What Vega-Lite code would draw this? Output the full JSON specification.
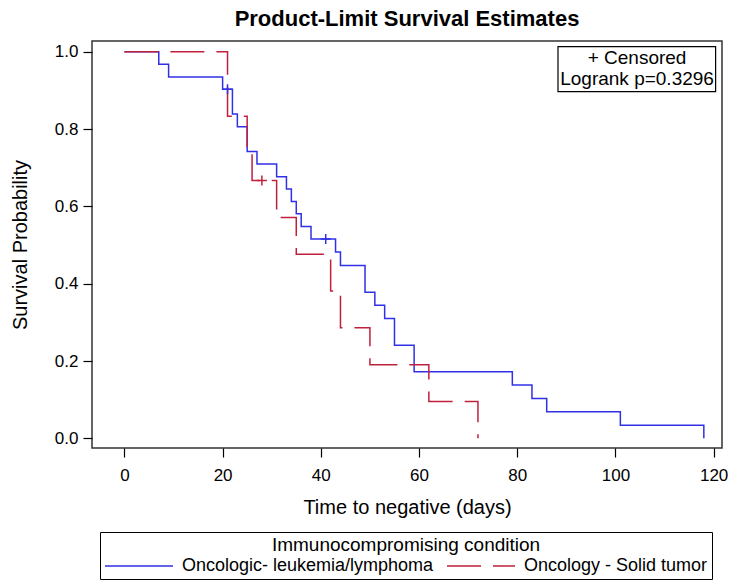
{
  "$schema": "https://vega.github.io/schema/vega-lite/v6.json",
  "width": 630,
  "height": 407,
  "autosize": {"type": "none"},
  "padding": {"left": 92, "top": 41, "right": 7, "bottom": 133},
  "background": "white",
  "title": {"text": "Product-Limit Survival Estimates", "fontSize": 22, "font": "Liberation Sans", "fontWeight": "bold", "anchor": "middle", "offset": 10, "color": "black"},
  "config": {
    "view": {"stroke": "#333333", "strokeWidth": 1.5},
    "font": "Liberation Sans",
    "axis": {"domain": false, "grid": false, "tickColor": "black", "tickSize": 9, "tickWidth": 1.2, "labelFontSize": 17, "titleFontSize": 20, "labelColor": "black", "titleColor": "black", "titleFontWeight": "normal", "labelFont": "Liberation Sans", "titleFont": "Liberation Sans"},
    "legend": {"labelFont": "Liberation Sans", "titleFont": "Liberation Sans"}
  },
  "datasets": {
    "curves": [
      {"group": "Oncologic- leukemia/lymphoma", "time": 0, "survival": 1.0},
      {"group": "Oncologic- leukemia/lymphoma", "time": 7, "survival": 0.968},
      {"group": "Oncologic- leukemia/lymphoma", "time": 9, "survival": 0.935},
      {"group": "Oncologic- leukemia/lymphoma", "time": 20, "survival": 0.903},
      {"group": "Oncologic- leukemia/lymphoma", "time": 22, "survival": 0.839},
      {"group": "Oncologic- leukemia/lymphoma", "time": 23, "survival": 0.806},
      {"group": "Oncologic- leukemia/lymphoma", "time": 25, "survival": 0.742},
      {"group": "Oncologic- leukemia/lymphoma", "time": 27, "survival": 0.710},
      {"group": "Oncologic- leukemia/lymphoma", "time": 31, "survival": 0.677},
      {"group": "Oncologic- leukemia/lymphoma", "time": 33, "survival": 0.645},
      {"group": "Oncologic- leukemia/lymphoma", "time": 34, "survival": 0.613},
      {"group": "Oncologic- leukemia/lymphoma", "time": 35, "survival": 0.581},
      {"group": "Oncologic- leukemia/lymphoma", "time": 36, "survival": 0.548},
      {"group": "Oncologic- leukemia/lymphoma", "time": 38, "survival": 0.516},
      {"group": "Oncologic- leukemia/lymphoma", "time": 43, "survival": 0.482},
      {"group": "Oncologic- leukemia/lymphoma", "time": 44, "survival": 0.447},
      {"group": "Oncologic- leukemia/lymphoma", "time": 49, "survival": 0.378},
      {"group": "Oncologic- leukemia/lymphoma", "time": 51, "survival": 0.344},
      {"group": "Oncologic- leukemia/lymphoma", "time": 53, "survival": 0.310},
      {"group": "Oncologic- leukemia/lymphoma", "time": 55, "survival": 0.241},
      {"group": "Oncologic- leukemia/lymphoma", "time": 59, "survival": 0.172},
      {"group": "Oncologic- leukemia/lymphoma", "time": 79, "survival": 0.138},
      {"group": "Oncologic- leukemia/lymphoma", "time": 83, "survival": 0.103},
      {"group": "Oncologic- leukemia/lymphoma", "time": 86, "survival": 0.069},
      {"group": "Oncologic- leukemia/lymphoma", "time": 101, "survival": 0.034},
      {"group": "Oncologic- leukemia/lymphoma", "time": 118, "survival": 0.0},
      {"group": "Oncology - Solid tumor", "time": 0, "survival": 1.0},
      {"group": "Oncology - Solid tumor", "time": 21, "survival": 0.833},
      {"group": "Oncology - Solid tumor", "time": 25, "survival": 0.750},
      {"group": "Oncology - Solid tumor", "time": 26, "survival": 0.667},
      {"group": "Oncology - Solid tumor", "time": 31, "survival": 0.571},
      {"group": "Oncology - Solid tumor", "time": 35, "survival": 0.476},
      {"group": "Oncology - Solid tumor", "time": 42, "survival": 0.381},
      {"group": "Oncology - Solid tumor", "time": 44, "survival": 0.286},
      {"group": "Oncology - Solid tumor", "time": 50, "survival": 0.190},
      {"group": "Oncology - Solid tumor", "time": 62, "survival": 0.095},
      {"group": "Oncology - Solid tumor", "time": 72, "survival": 0.0}
    ],
    "censored": [
      {"group": "Oncologic- leukemia/lymphoma", "time": 21, "survival": 0.903},
      {"group": "Oncologic- leukemia/lymphoma", "time": 41, "survival": 0.516},
      {"group": "Oncology - Solid tumor", "time": 28, "survival": 0.667}
    ],
    "insetbox": [
      {"x1": 88.3, "x2": 120.4, "y1": 0.8968, "y2": 1.0132}
    ],
    "insettext": [
      {"label": "+ Censored", "tx": 104.4, "ty": 0.983},
      {"label": "Logrank p=0.3296", "tx": 104.4, "ty": 0.929}
    ]
  },
  "layer": [
    {
      "data": {"name": "curves"},
      "mark": {"type": "line", "interpolate": "step-after", "strokeWidth": 1.5},
      "encoding": {
        "x": {"field": "time", "type": "quantitative", "title": "Time to negative (days)",
              "scale": {"domain": [-6.6, 121.7], "nice": false, "zero": false},
              "axis": {"values": [0, 20, 40, 60, 80, 100, 120], "labelPadding": 10, "titlePadding": 14}},
        "y": {"field": "survival", "type": "quantitative", "title": "Survival Probability",
              "scale": {"domain": [-0.0251, 1.028], "nice": false, "zero": false},
              "axis": {"values": [0, 0.2, 0.4, 0.6, 0.8, 1.0], "format": ".1f", "labelPadding": 5, "titlePadding": 24}},
        "color": {"field": "group", "type": "nominal", "title": "Immunocompromising condition",
                  "scale": {"domain": ["Oncologic- leukemia/lymphoma", "Oncology - Solid tumor"], "range": ["#3030e6", "#c0203c"]},
                  "legend": {"orient": "none", "legendX": 8, "legendY": 491, "direction": "horizontal", "titleAnchor": "middle", "titleFontSize": 19, "titleFontWeight": "normal", "titleColor": "black", "titleLimit": 1000, "labelLimit": 1000, "labelFontSize": 18, "labelColor": "black", "symbolType": "stroke", "symbolSize": 4624, "symbolStrokeWidth": 1.5, "clipHeight": 18, "strokeColor": "black", "padding": 4, "columnPadding": 12, "labelOffset": 8, "titlePadding": 2}},
        "strokeDash": {"field": "group", "type": "nominal", "title": "Immunocompromising condition",
                  "scale": {"domain": ["Oncologic- leukemia/lymphoma", "Oncology - Solid tumor"], "range": [[1, 0], [34, 12]]},
                  "legend": {"orient": "none", "legendX": 8, "legendY": 491, "direction": "horizontal", "titleAnchor": "middle", "titleFontSize": 19, "titleFontWeight": "normal", "titleColor": "black", "titleLimit": 1000, "labelLimit": 1000, "labelFontSize": 18, "labelColor": "black", "symbolType": "stroke", "symbolSize": 4624, "symbolStrokeWidth": 1.5, "clipHeight": 18, "strokeColor": "black", "padding": 4, "columnPadding": 12, "labelOffset": 8, "titlePadding": 2}}
      }
    },
    {
      "data": {"name": "censored"},
      "mark": {"type": "point", "shape": "M-1,0L1,0M0,-1L0,1", "size": 100, "filled": false, "strokeWidth": 1.5, "opacity": 1},
      "encoding": {
        "x": {"field": "time", "type": "quantitative", "title": "Time to negative (days)"},
        "y": {"field": "survival", "type": "quantitative", "title": "Survival Probability"},
        "color": {"field": "group", "type": "nominal", "title": "Immunocompromising condition"}
      }
    },
    {
      "data": {"name": "insetbox"},
      "mark": {"type": "rect", "fill": "white", "stroke": "black", "strokeWidth": 1.2},
      "encoding": {
        "x": {"field": "x1", "type": "quantitative", "title": "Time to negative (days)"},
        "x2": {"field": "x2"},
        "y": {"field": "y1", "type": "quantitative", "title": "Survival Probability"},
        "y2": {"field": "y2"}
      }
    },
    {
      "data": {"name": "insettext"},
      "mark": {"type": "text", "fontSize": 19, "font": "Liberation Sans", "color": "black", "align": "center", "baseline": "middle"},
      "encoding": {
        "x": {"field": "tx", "type": "quantitative", "title": "Time to negative (days)"},
        "y": {"field": "ty", "type": "quantitative", "title": "Survival Probability"},
        "text": {"field": "label"}
      }
    }
  ]
}
